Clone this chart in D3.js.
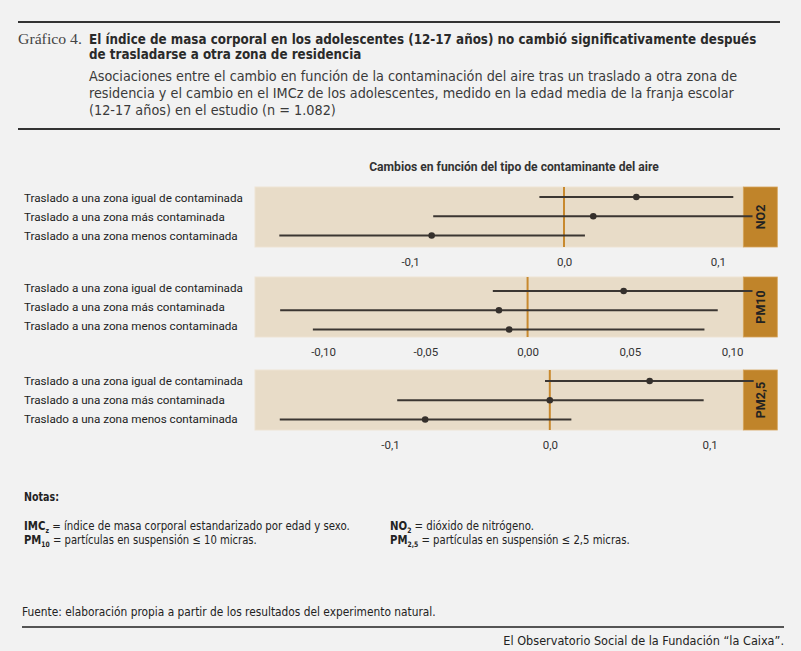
<!DOCTYPE html>
<html><head><meta charset="utf-8">
<script src="https://cdn.jsdelivr.net/npm/d3@7"></script>
<style>body{margin:0;background:#f2f2f2;} svg{display:block;}</style>
</head><body><svg id="c" width="801" height="651"></svg>
<script>
// ---- Data ----
const categories = [
  "Traslado a una zona igual de contaminada",
  "Traslado a una zona más contaminada",
  "Traslado a una zona menos contaminada"
];
const pollutants = ["NO2", "PM10", "PM2,5"];

const no2Point = [0.047, 0.019, -0.086];
const no2Low   = [-0.016, -0.085, -0.185];
const no2High  = [0.110, 0.1225, 0.0136];

const pm10Point = [0.047, -0.014, -0.009];
const pm10Low   = [-0.017, -0.121, -0.105];
const pm10High  = [0.110, 0.093, 0.0865];

const pm25Point = [0.0625, 0.0, -0.078];
const pm25Low   = [-0.003, -0.0955, -0.169];
const pm25High  = [0.1276, 0.0963, 0.0135];

const no2Ticks = [-0.1, 0, 0.1];
const no2TickLabels = ["-0,1", "0,0", "0,1"];
const pm10Ticks = [-0.10, -0.05, 0, 0.05, 0.10];
const pm10TickLabels = ["-0,10", "-0,05", "0,00", "0,05", "0,10"];
const pm25Ticks = [-0.1, 0, 0.1];
const pm25TickLabels = ["-0,1", "0,0", "0,1"];

const no2Domain = [-0.2008, 0.1165];
const pm10Domain = [-0.1333, 0.1055];
const pm25Domain = [-0.1845, 0.1211];

// ---- Layout ----
const W = 801, H = 651;
const narrow = "'Liberation Sans Narrow', 'DejaVu Sans Condensed', 'Roboto', sans-serif";
const sans = "'Roboto', 'Liberation Sans', sans-serif";
const serif = "'Liberation Serif', 'DejaVu Serif', serif";
const panelX0 = 255, panelX1 = 743.3, stripX1 = 777.3;
const panelH = 60;

// scale font-size of a selection so that its reference node spans the target width
function fitWidth(sel, refNode, size, target) {
  const len = refNode.getComputedTextLength();
  if (len > 0) sel.attr("font-size", size * target / len);
}
// compress text horizontally (keeping glyph height) so it spans the target width
function squeeze(sel, x0, target) {
  const len = sel.node().getComputedTextLength();
  if (len > 0) {
    const k = target / len;
    sel.attr("transform", `translate(${x0},0) scale(${k},1) translate(${-x0},0)`);
  }
}

const panels = [
  {name: pollutants[0], point: no2Point, low: no2Low, high: no2High, ticks: no2Ticks, labels: no2TickLabels, domain: no2Domain, top: 187, rows: [197, 235.5]},
  {name: pollutants[1], point: pm10Point, low: pm10Low, high: pm10High, ticks: pm10Ticks, labels: pm10TickLabels, domain: pm10Domain, top: 277, rows: [291, 329.5]},
  {name: pollutants[2], point: pm25Point, low: pm25Low, high: pm25High, ticks: pm25Ticks, labels: pm25TickLabels, domain: pm25Domain, top: 370, rows: [381, 419.5]}
];

const svg = d3.select("#c");
svg.append("rect").attr("width", W).attr("height", H).attr("fill", "#f2f2f2");

// ---- Header ----
svg.append("line").attr("x1", 18).attr("x2", 780).attr("y1", 22).attr("y2", 22)
  .attr("stroke", "#333").attr("stroke-width", 2);
svg.append("line").attr("x1", 18).attr("x2", 780).attr("y1", 129).attr("y2", 129)
  .attr("stroke", "#333").attr("stroke-width", 2);

const gr = svg.append("text").attr("x", 18).attr("y", 44)
  .attr("font-family", serif).attr("font-size", 15.5).attr("fill", "#444")
  .text("Gráfico 4.");
squeeze(gr, 18, 64);

const titleLines = [
  "El índice de masa corporal en los adolescentes (12-17 años) no cambió significativamente después",
  "de trasladarse a otra zona de residencia"
];
const tSel = svg.append("g").selectAll("text").data(titleLines).join("text")
  .attr("x", 89).attr("y", (d, i) => 44 + i * 15)
  .attr("font-family", narrow).attr("font-weight", "bold").attr("font-size", 14)
  .attr("fill", "#2a2a2a").text(d => d);
const tLen = tSel.nodes()[0].getComputedTextLength();
tSel.attr("transform", `translate(89,0) scale(${668 / tLen},1) translate(-89,0)`);

const subLines = [
  "Asociaciones entre el cambio en función de la contaminación del aire tras un traslado a otra zona de",
  "residencia y el cambio en el IMCz de los adolescentes, medido en la edad media de la franja escolar",
  "(12-17 años) en el estudio (n = 1.082)"
];
const sSel = svg.append("g").selectAll("text").data(subLines).join("text")
  .attr("x", 89).attr("y", (d, i) => 81 + i * 17)
  .attr("font-family", narrow).attr("font-size", 14.5)
  .attr("fill", "#3a3a3a").text(d => d);
const sLen = sSel.nodes()[0].getComputedTextLength();
sSel.attr("transform", `translate(89,0) scale(${649 / sLen},1) translate(-89,0)`);

// ---- Chart title ----
const ct = svg.append("text").attr("x", 514).attr("y", 171)
  .attr("text-anchor", "middle").attr("font-family", sans).attr("font-weight", "bold")
  .attr("font-size", 12).attr("fill", "#333")
  .text("Cambios en función del tipo de contaminante del aire");
fitWidth(ct, ct.node(), 12, 290);

// ---- Panels ----
panels.forEach(p => {
  const g = svg.append("g");
  const x = d3.scaleLinear().domain(p.domain).range([panelX0, panelX1]);
  const y = d3.scalePoint().domain(categories).range(p.rows);
  const labelY = d3.scalePoint().domain(categories).range([p.top + panelH / 2 - 19, p.top + panelH / 2 + 19]);

  g.append("rect").attr("x", panelX0).attr("y", p.top).attr("width", panelX1 - panelX0).attr("height", panelH)
    .attr("fill", "#e8dcc8").attr("stroke", "#eee3d3").attr("stroke-width", 1);
  g.append("rect").attr("x", panelX1).attr("y", p.top).attr("width", stripX1 - panelX1).attr("height", panelH)
    .attr("fill", "#c0842a").attr("stroke", "#d6a45a").attr("stroke-width", 0.8);

  // zero reference line
  g.append("line").attr("x1", x(0)).attr("x2", x(0)).attr("y1", p.top).attr("y2", p.top + panelH)
    .attr("stroke", "#c8892e").attr("stroke-width", 2);

  // category labels
  const lab = g.append("g").selectAll("text").data(categories).join("text")
    .attr("x", 24).attr("y", d => labelY(d)).attr("dy", "0.35em")
    .attr("font-family", sans).attr("font-size", 12).attr("fill", "#222")
    .text(d => d);
  fitWidth(lab, lab.nodes()[0], 12, 219);

  // intervals
  g.append("g").selectAll("line").data(categories).join("line")
    .attr("x1", (d, i) => x(p.low[i])).attr("x2", (d, i) => x(p.high[i]))
    .attr("y1", d => y(d)).attr("y2", d => y(d))
    .attr("stroke", "#3b3632").attr("stroke-width", 2.2);
  g.append("g").selectAll("circle").data(categories).join("circle")
    .attr("cx", (d, i) => x(p.point[i])).attr("cy", d => y(d)).attr("r", 3.3)
    .attr("fill", "#35302c");

  // strip label
  const sx = (panelX1 + stripX1) / 2, sy = p.top + panelH / 2;
  g.append("text").attr("transform", `translate(${sx},${sy}) rotate(-90)`)
    .attr("text-anchor", "middle").attr("dy", "0.35em")
    .attr("font-family", sans).attr("font-weight", "bold").attr("font-size", 12.5)
    .attr("fill", "#222").text(p.name);

  // axis
  const ax = g.append("g").attr("transform", `translate(0,${p.top + panelH})`)
    .call(d3.axisBottom(x).tickValues(p.ticks).tickFormat((d, i) => p.labels[i]).tickSize(0).tickPadding(11));
  ax.select(".domain").remove();
  ax.selectAll("text").attr("font-family", sans).attr("font-size", 11.5).attr("fill", "#333");
});

// ---- Notes ----
const notas = svg.append("text").attr("x", 24).attr("y", 501)
  .attr("font-family", narrow).attr("font-weight", "bold").attr("font-size", 12.5).attr("fill", "#222")
  .text("Notas:");
squeeze(notas, 24, 35);

function note(xp, yp, main, sub, rest, target) {
  const t = svg.append("text").attr("x", xp).attr("y", yp)
    .attr("font-family", narrow).attr("font-size", 12.5).attr("fill", "#222");
  t.append("tspan").attr("font-weight", "bold").text(main);
  t.append("tspan").attr("font-weight", "bold").attr("font-size", "0.6em").attr("dy", 3).text(sub);
  t.append("tspan").attr("dy", -3).text(" " + rest);
  squeeze(t, xp, target);
}
note(24, 530, "IMC", "z", "= índice de masa corporal estandarizado por edad y sexo.", 326);
note(24, 544, "PM", "10", "= partículas en suspensión ≤ 10 micras.", 233);
note(390, 530, "NO", "2", "= dióxido de nitrógeno.", 144);
note(390, 544, "PM", "2,5", "= partículas en suspensión ≤ 2,5 micras.", 240);

const fu = svg.append("text").attr("x", 22).attr("y", 616)
  .attr("font-family", narrow).attr("font-size", 12.5).attr("fill", "#222")
  .text("Fuente: elaboración propia a partir de los resultados del experimento natural.");
squeeze(fu, 22, 414);
svg.append("line").attr("x1", 22).attr("x2", 784).attr("y1", 627).attr("y2", 627)
  .attr("stroke", "#555").attr("stroke-width", 2);
const cr = svg.append("text").attr("x", 784).attr("y", 645).attr("text-anchor", "end")
  .attr("font-family", narrow).attr("font-size", 12.5).attr("fill", "#222")
  .text("El Observatorio Social de la Fundación “la Caixa”.");
squeeze(cr, 784, 281);
</script></body></html>
